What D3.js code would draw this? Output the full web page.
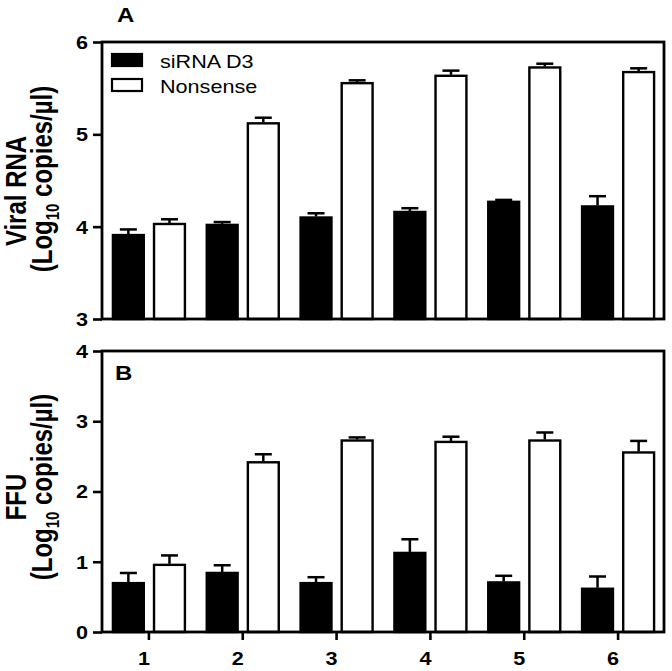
<!DOCTYPE html>
<html>
<head>
<meta charset="utf-8">
<script src="https://cdn.jsdelivr.net/npm/d3@7"></script>
<style>
  html, body { margin: 0; padding: 0; background: #fff; }
  svg { display: block; font-family: "Liberation Sans", Arial, sans-serif; }
</style>
</head>
<body>
<script>
// ---------- data ----------
const groups = ["1", "2", "3", "4", "5", "6"];
const series = ["siRNA D3", "Nonsense"];

const rnaSiRNA       = [3.92, 4.03, 4.11, 4.17, 4.28, 4.23];
const rnaSiRNAErr    = [0.05, 0.02, 0.035, 0.03, 0.01, 0.10];
const rnaNonsense    = [4.04, 5.13, 5.565, 5.645, 5.735, 5.685];
const rnaNonsenseErr = [0.04, 0.05, 0.02, 0.045, 0.03, 0.03];

const ffuSiRNA       = [0.71, 0.855, 0.71, 1.14, 0.72, 0.63];
const ffuSiRNAErr    = [0.13, 0.095, 0.07, 0.18, 0.08, 0.16];
const ffuNonsense    = [0.97, 2.43, 2.74, 2.72, 2.74, 2.57];
const ffuNonsenseErr = [0.12, 0.10, 0.03, 0.06, 0.10, 0.15];

const rnaTicks = [3, 4, 5, 6];
const ffuTicks = [0, 1, 2, 3, 4];

// ---------- layout ----------
const SX = 1.2;           // horizontal stretch of the original figure
const W = 672, H = 671;
const left = 102, right = 664;

const svg = d3.select("body").append("svg").attr("width", W).attr("height", H);

const x = d3.scaleBand().domain(groups).range([left, 665]);
const xs = d3.scaleBand().domain(series).range([-37, 37]).paddingInner(0.2);
const fills = { "siRNA D3": "#000", "Nonsense": "#fff" };

function stretchText(sel, xPos, yPos, extra) {
  sel.attr("transform", `translate(${xPos},${yPos}) scale(${SX},1)` + (extra || ""));
}

function drawPanel(opt) {
  const y = d3.scaleLinear().domain(opt.domain).range(opt.range);
  const g = svg.append("g");
  const y0 = opt.range[0];

  const rows = [];
  series.forEach((s, si) => {
    const vals = si === 0 ? opt.s : opt.n;
    const errs = si === 0 ? opt.se : opt.ne;
    groups.forEach((grp, i) => rows.push({ s, grp, v: vals[i], e: errs[i] }));
  });

  // error bars (upper only)
  const eb = g.selectAll("g.err").data(rows).join("g").attr("class", "err");
  const cx = d => x(d.grp) + x.bandwidth() / 2 + xs(d.s) + xs.bandwidth() / 2;
  eb.append("line")
    .attr("x1", cx).attr("x2", cx)
    .attr("y1", d => y(d.v)).attr("y2", d => y(d.v + d.e))
    .attr("stroke", "#000").attr("stroke-width", 2.5);
  eb.append("line")
    .attr("x1", d => cx(d) - 8.5).attr("x2", d => cx(d) + 8.5)
    .attr("y1", d => y(d.v + d.e)).attr("y2", d => y(d.v + d.e))
    .attr("stroke", "#000").attr("stroke-width", 2.5);

  // bars
  g.selectAll("rect.bar").data(rows).join("rect").attr("class", "bar")
    .attr("x", d => x(d.grp) + x.bandwidth() / 2 + xs(d.s) + 1)
    .attr("width", xs.bandwidth() - 2)
    .attr("y", d => y(d.v) + 1)
    .attr("height", d => y0 - y(d.v) - 1)
    .attr("fill", d => fills[d.s])
    .attr("stroke", "#000").attr("stroke-width", 2.4);

  // frame
  g.append("rect")
    .attr("x", left).attr("y", opt.range[1])
    .attr("width", right - left).attr("height", y0 - opt.range[1])
    .attr("fill", "none").attr("stroke", "#000").attr("stroke-width", 2.8);

  // y axis
  const ya = g.append("g").attr("transform", `translate(${left},0)`)
    .call(d3.axisLeft(y).tickValues(opt.ticks).tickSize(9).tickSizeOuter(0).tickFormat(d3.format("d")));
  ya.select(".domain").remove();
  ya.selectAll(".tick line").attr("stroke", "#000").attr("stroke-width", 2.6);
  ya.selectAll(".tick text")
    .attr("x", -14 / SX).attr("dy", "0.36em")
    .attr("transform", `scale(${SX},1)`)
    .attr("fill", "#000")
    .style("font-size", "18px").style("font-weight", "bold")
    .style("font-family", "'Liberation Sans', Arial, sans-serif");

  if (opt.showX) {
    const xa = g.append("g").attr("transform", `translate(0,${y0})`)
      .call(d3.axisBottom(x).tickSize(8).tickSizeOuter(0));
    xa.select(".domain").remove();
    xa.selectAll(".tick line").attr("stroke", "#000").attr("stroke-width", 2.6);
    xa.selectAll(".tick text")
      .attr("x", -5 / SX).attr("y", 33).attr("dy", 0)
      .attr("transform", `scale(${SX},1)`)
      .attr("fill", "#000")
      .style("font-size", "18px").style("font-weight", "bold")
      .style("font-family", "'Liberation Sans', Arial, sans-serif");
  }

  // panel letter
  const L = svg.append("text").text(opt.letter)
    .style("font-size", "20px").style("font-weight", "bold");
  stretchText(L, opt.letterPos[0], opt.letterPos[1]);

  // axis titles
  const t1 = svg.append("text").text(opt.title)
    .attr("text-anchor", "middle")
    .style("font-size", "24px").style("font-weight", "bold");
  stretchText(t1, 26, opt.titleY, " rotate(-90)");

  const t2 = svg.append("text")
    .attr("text-anchor", "middle")
    .style("font-size", "24px").style("font-weight", "bold");
  t2.append("tspan").text("(Log");
  t2.append("tspan").text("10").attr("dy", 6).style("font-size", "15px");
  t2.append("tspan").text(" copies/\u00b5l)").attr("dy", -6);
  stretchText(t2, 52, opt.title2Y, " rotate(-90)");
}

drawPanel({
  domain: [3, 6], range: [319, 42], ticks: rnaTicks,
  s: rnaSiRNA, se: rnaSiRNAErr, n: rnaNonsense, ne: rnaNonsenseErr,
  showX: false, letter: "A", letterPos: [117, 22],
  title: "Viral RNA", titleY: 191, title2Y: 179
});

drawPanel({
  domain: [0, 4], range: [632, 351], ticks: ffuTicks,
  s: ffuSiRNA, se: ffuSiRNAErr, n: ffuNonsense, ne: ffuNonsenseErr,
  showX: true, letter: "B", letterPos: [115, 380],
  title: "FFU", titleY: 497, title2Y: 487
});

// legend
const legend = svg.append("g");
series.forEach((s, i) => {
  const yy = 53 + i * 25;
  legend.append("rect")
    .attr("x", 112).attr("y", yy + 1)
    .attr("width", 30).attr("height", 12)
    .attr("fill", fills[s]).attr("stroke", "#000").attr("stroke-width", 2.2);
  const t = legend.append("text").text(s)
    .style("font-size", "18px");
  stretchText(t, 160, yy + 15);
});
</script>
</body>
</html>
